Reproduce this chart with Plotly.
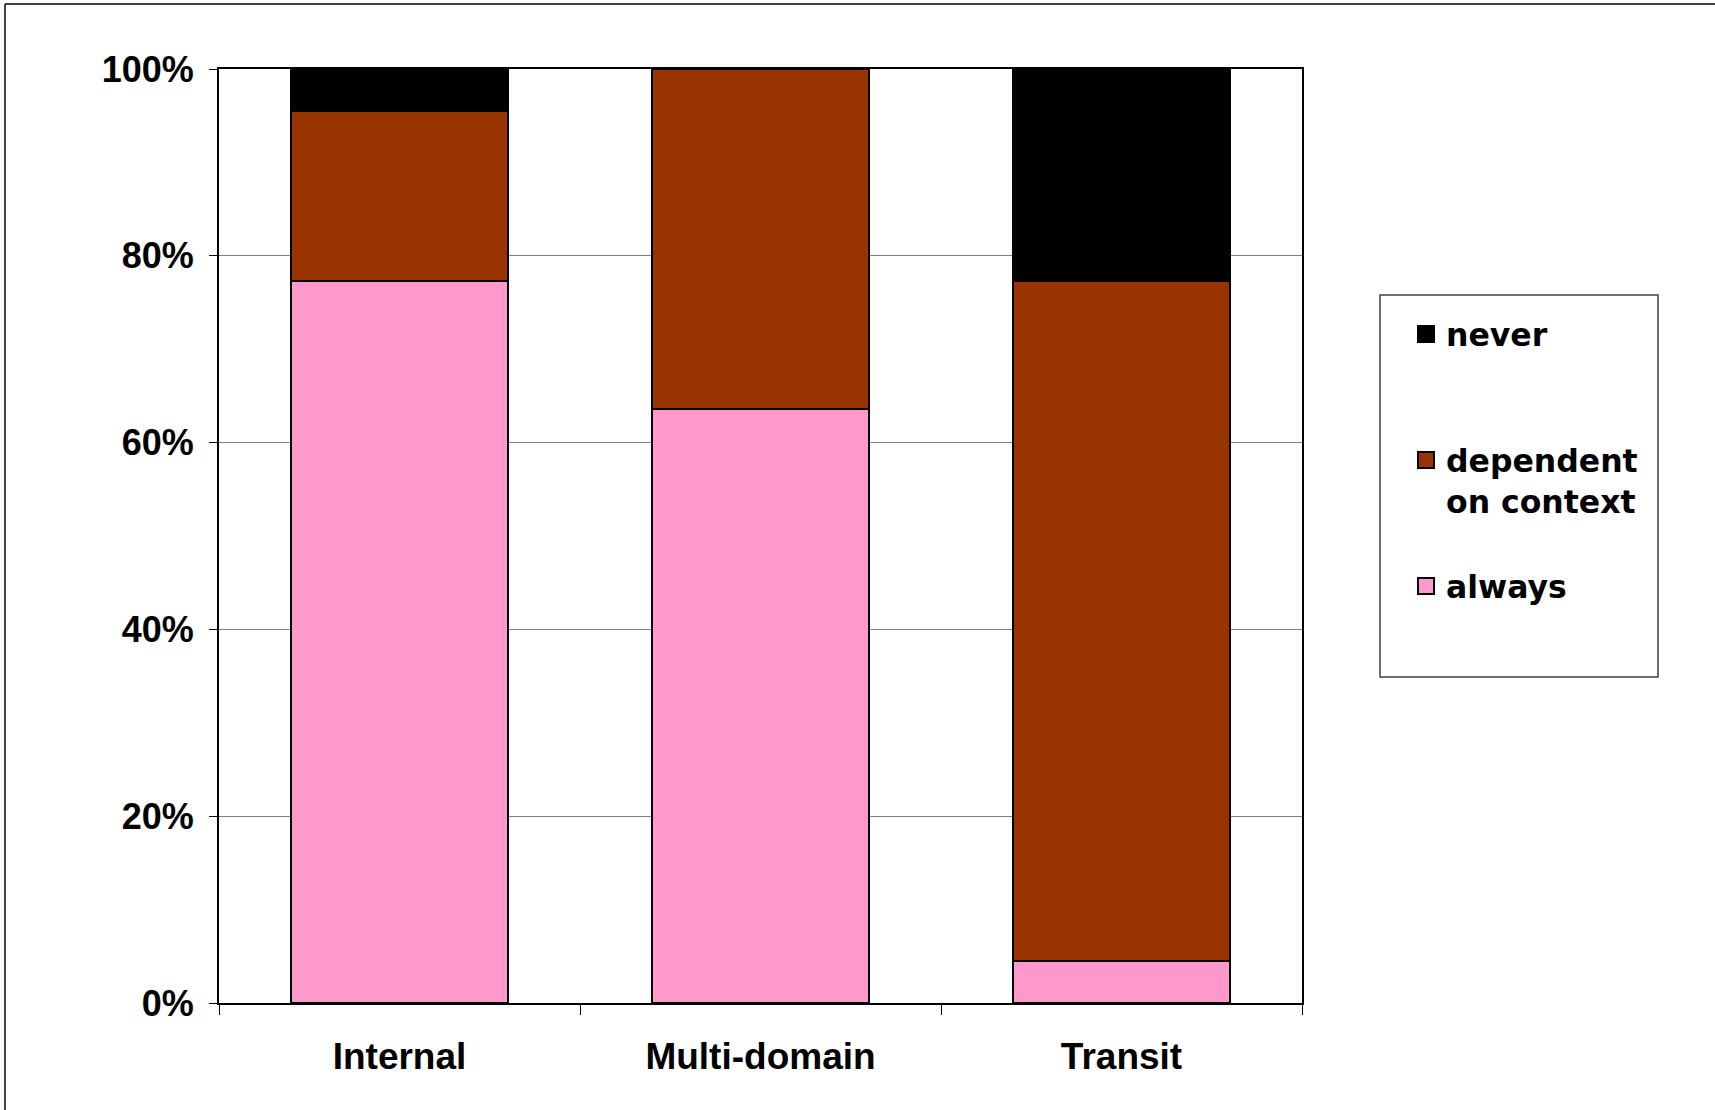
import plotly.graph_objects as go

categories = ["Internal", "Multi-domain", "Transit"]
always = [0.773, 0.636, 0.045]
dependent = [0.182, 0.364, 0.728]
never = [0.045, 0.0, 0.227]
series_names = ["always", "dependent<br>on context", "never"]
colors = ["#FF99CC", "#993300", "#000000"]
y_ticks = [0, 0.2, 0.4, 0.6, 0.8, 1.0]

W, H = 1715, 1110
L, R, T, B = 219, 1302, 69, 1003
pw, ph = R - L, B - T

def px_x(p):
    return (p - L) / pw

def px_y(p):
    return (B - p) / ph

fig = go.Figure()
values = [always, dependent, never]
for name, vals, col in zip(series_names, values, colors):
    fig.add_trace(go.Bar(
        x=categories, y=vals, name=name, showlegend=False,
        marker=dict(color=col, line=dict(color="#000000", width=2)),
    ))

# legend proxies (one legend each, to mimic spacing)
legend_ids = {"never": "legend", "dependent<br>on context": "legend2", "always": "legend3"}
for name, col in zip(series_names, colors):
    fig.add_trace(go.Scatter(
        x=[None], y=[None], mode="markers", name=name,
        marker=dict(symbol="square", size=16, color=col, line=dict(color="#000000", width=2)),
        legend=legend_ids[name], showlegend=True,
    ))

legfont = dict(family="DejaVu Sans", size=31.5, color="#000000", weight="bold")
def leg(ypx):
    return dict(x=px_x(1406), y=px_y(ypx), xanchor="left", yanchor="top",
                bgcolor="rgba(0,0,0,0)", borderwidth=0, font=legfont,
                valign="top", itemclick=False, itemdoubleclick=False)

fig.update_layout(
    width=W, height=H,
    margin=dict(l=L, r=W - R, t=T, b=H - B),
    paper_bgcolor="#FFFFFF", plot_bgcolor="#FFFFFF",
    barmode="stack", bargap=0.4,
    legend=leg(307), legend2=leg(433), legend3=leg(559),
    xaxis=dict(
        type="category", range=[-0.5, 2.5],
        showline=True, linecolor="#000000", linewidth=2, mirror=True,
        ticks="outside", tickson="boundaries", ticklen=10, tickcolor="#000000", tickwidth=1,
        showgrid=False, ticklabelstandoff=20,
        tickfont=dict(family="Liberation Sans", size=37, color="#000000", weight="bold"),
    ),
    yaxis=dict(
        range=[0, 1], tickvals=y_ticks, tickformat=".0%",
        showline=True, linecolor="#000000", linewidth=2, mirror=True,
        ticks="outside", ticklen=8, tickcolor="#000000", tickwidth=1,
        showgrid=True, gridcolor="#808080", gridwidth=1, zeroline=False,
        ticklabelstandoff=8,
        tickfont=dict(family="Liberation Sans", size=36, color="#000000", weight="bold"),
    ),
    shapes=[
        dict(type="rect", xref="paper", yref="paper",
             x0=px_x(1380), x1=px_x(1658), y0=px_y(677), y1=px_y(295),
             line=dict(color="#404040", width=1.5), fillcolor="rgba(0,0,0,0)", layer="below"),
        dict(type="line", xref="paper", yref="paper",
             x0=px_x(5), x1=px_x(5), y0=px_y(4), y1=px_y(1115),
             line=dict(color="#404040", width=2)),
        dict(type="line", xref="paper", yref="paper",
             x0=px_x(5), x1=px_x(1720), y0=px_y(4), y1=px_y(4),
             line=dict(color="#404040", width=2)),
    ],
)

fig.write_html("out.html")
